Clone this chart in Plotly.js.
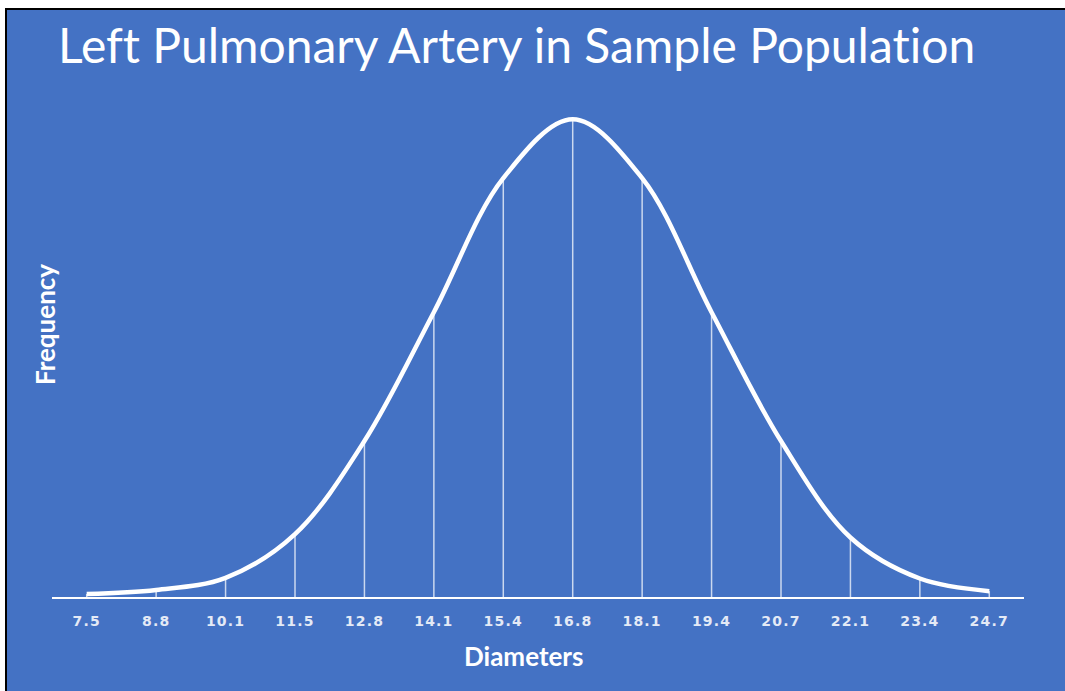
<!DOCTYPE html>
<html>
<head>
<meta charset="utf-8">
<script src="https://cdn.plot.ly/plotly-3.0.1.min.js"></script>
<style>
  html, body { margin: 0; padding: 0; background: #ffffff; overflow: hidden; }
  #frame { position: absolute; left: 5px; top: 8px; border-left: 2px solid #000; border-top: 2px solid #000; }
  #chart { width: 1058px; height: 681px; }
  .xtick text { letter-spacing: 1.2px; }
  text { font-variant-ligatures: none; font-feature-settings: "liga" 0; }
</style>
</head>
<body>
<div id="frame"><div id="chart"></div></div>
<script>
// Category labels (diameters) and frequency values
const diameters = ['7.5','8.8','10.1','11.5','12.8','14.1','15.4','16.8','18.1','19.4','20.7','22.1','23.4','24.7'];
const frequency = [0.0010, 0.0023, 0.0062, 0.0204, 0.0506, 0.0924, 0.1359, 0.1550, 0.1359, 0.0924, 0.0506, 0.0193, 0.0060, 0.0019];
const zeros = diameters.map(() => 0);

const bg = '#4472C4';

const dropLines = {
  x: diameters,
  y: frequency,
  type: 'scatter',
  mode: 'markers',
  marker: { size: 0.1, color: 'rgba(0,0,0,0)' },
  error_y: {
    type: 'data',
    symmetric: false,
    array: zeros,
    arrayminus: frequency,
    width: 0,
    thickness: 1.5,
    color: 'rgba(255,255,255,0.72)'
  },
  hoverinfo: 'skip',
  showlegend: false
};

const curve = {
  x: diameters,
  y: frequency,
  type: 'scatter',
  mode: 'lines',
  line: { color: '#ffffff', width: 4.5, shape: 'spline', smoothing: 1 },
  showlegend: false
};

const layout = {
  width: 1058,
  height: 681,
  paper_bgcolor: bg,
  plot_bgcolor: bg,
  margin: { l: 45, r: 41, t: 100, b: 94 },
  title: {
    text: 'Left Pulmonary Artery in Sample Population',
    x: 0.0482, xanchor: 'left', xref: 'container',
    y: 0.947, yanchor: 'middle', yref: 'container',
    font: { family: 'Lato, "Open Sans", sans-serif', size: 48, color: '#ffffff' }
  },
  xaxis: {
    type: 'category',
    range: [-0.5, 13.5],
    showgrid: false,
    zeroline: false,
    showline: true,
    linecolor: '#ffffff',
    linewidth: 2,
    ticks: '',
    ticklabelstandoff: 10,
    tickfont: { family: '"DejaVu Sans", sans-serif', size: 14, color: '#e4eaf6', weight: 'bold' },
    fixedrange: true
  },
  yaxis: {
    range: [0, 0.158],
    showgrid: false,
    zeroline: false,
    showline: false,
    showticklabels: false,
    ticks: '',
    fixedrange: true
  },
  annotations: [
    {
      text: '<b>Frequency</b>',
      xref: 'paper', yref: 'paper',
      x: -0.0072, y: 0.5585,
      xanchor: 'center', yanchor: 'middle',
      textangle: -90,
      showarrow: false,
      font: { family: 'Lato, "Open Sans", sans-serif', size: 26, color: '#ffffff' }
    },
    {
      text: '<b>Diameters</b>',
      xref: 'paper', yref: 'paper',
      x: 0.4846, y: -0.1211,
      xanchor: 'center', yanchor: 'middle',
      showarrow: false,
      font: { family: 'Lato, "Open Sans", sans-serif', size: 26, color: '#ffffff' }
    }
  ]
};

Plotly.newPlot('chart', [dropLines, curve], layout, { displayModeBar: false, staticPlot: true });
</script>
</body>
</html>
